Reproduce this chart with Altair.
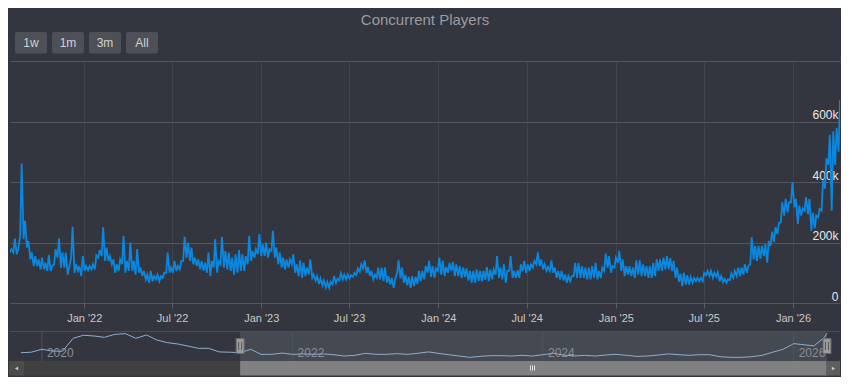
import altair as alt
import pandas as pd

# ---------------- data (values in thousands of players) ----------------
# weekly samples from 2021-08-01; each week has a low (weekday) and a high (weekend/peak)
week_lo = [167, 167, 161, 222, 211, 183, 144, 122, 122, 111,
           111, 106, 106, 128, 150, 117, 117, 94, 150, 100,
           106, 89, 106, 108, 111, 111, 150, 155, 139, 139,
           128, 100, 106, 128, 100, 106, 106, 94, 100, 89,
           78, 67,
           72, 78, 72, 83, 100, 100, 100, 106, 111, 139,
           150, 139, 128, 122, 111, 106, 100, 89, 117, 100,
           128, 117, 111, 106, 94, 100, 106, 106, 128, 139,
           150, 161, 155, 155, 150, 172, 150, 128, 117, 111,
           117, 128, 100, 89, 83, 89, 94, 83, 74, 63,
           58, 52, 50, 61, 66, 75, 78, 78, 81, 86,
           92, 103, 114, 100, 89, 78, 83, 78, 72, 67,
           61, 50, 100, 81, 67, 58, 50, 56, 63, 72,
           78, 100,
           86, 83, 106, 94, 89, 100, 106, 89, 89, 83,
           86, 74, 67, 67, 72, 72, 77, 72, 78, 94,
           83, 78, 67, 106, 83, 83, 83, 106, 100, 106,
           117, 128, 122, 111, 106, 106, 100, 83, 78, 74,
           67,
           72, 89, 83, 83, 83, 78, 78, 83, 78, 83,
           106, 117, 100, 117, 133, 106, 89, 94, 89, 83,
           94, 89, 89, 83, 83, 89, 106, 106, 111, 111,
           106, 83, 70, 56, 61, 61, 67, 72, 72, 72,
           92,
           89, 83, 87, 72, 69, 67, 76, 83, 89, 89,
           94, 100, 128, 144, 139, 147, 155, 133, 189, 202,
           228, 267, 289, 300, 333, 317, 261, 289, 305, 294,
           239, 247, 283, 305, 378, 456, 305, 456, 500]

week_hi = [178, 213, 178, 461, 272, 205, 167, 155, 144, 150,
           133, 158, 122, 178, 213, 167, 167, 117, 252, 128,
           122, 155, 122, 122, 128, 158, 175, 250, 183, 155,
           144, 128, 144, 222, 139, 200, 139, 178, 117, 106,
           94, 106,
           89, 94, 89, 100, 167, 117, 139, 122, 139, 219,
           200, 183, 150, 144, 139, 133, 167, 139, 211, 139,
           219, 172, 167, 150, 161, 175, 161, 155, 222, 172,
           178, 228, 194, 200, 178, 239, 183, 167, 150, 144,
           144, 161, 128, 141, 133, 117, 144, 94, 89, 81,
           75, 70, 70, 89, 80, 98, 94, 94, 92, 100,
           114, 128, 141, 119, 106, 94, 117, 117, 117, 89,
           83, 78, 141, 117, 94, 86, 89, 86, 106, 106,
           122, 139,
           122, 114, 150, 139, 119, 133, 136, 128, 122, 117,
           114, 106, 106, 111, 106, 106, 119, 110, 111, 155,
           117, 128, 106, 155, 106, 108, 128, 139, 128, 128,
           139, 167, 144, 128, 119, 141, 117, 106, 106, 94,
           89,
           89, 133, 133, 122, 117, 117, 122, 133, 106, 117,
           163, 155, 122, 150, 172, 144, 122, 122, 117, 141,
           141, 128, 122, 122, 133, 144, 144, 150, 155, 148,
           139, 117, 97, 100, 92, 86, 83, 83, 83, 100,
           106,
           106, 100, 102, 89, 80, 78, 98, 106, 117, 117,
           128, 122, 217, 189, 189, 189, 194, 205, 236, 250,
           264, 333, 344, 333, 400, 344, 322, 313, 350, 344,
           298, 289, 311, 405, 478, 556, 567, 578, 672]

# navigator: monthly values from 2019-11 plus the last day
nav_vals = [161, 170, 221, 190, 186, 413, 466, 454, 430, 483,
            494, 413, 471, 384, 337, 313, 278, 238, 238, 175,
            170, 161, 220, 133, 133, 155, 133, 140, 133, 140,
            126, 103, 115, 150, 133, 133, 145, 133, 150, 175,
            150, 126, 103, 80, 97, 109, 109, 103, 115, 103,
            126, 150, 120, 103, 115, 103, 120, 133, 115, 97,
            103, 120, 140, 126, 115, 126, 126, 91, 80, 80,
            91, 115, 170, 221, 320, 300, 280, 430]
nav_last_date = "2026-04-08"
nav_last_val = 501

tick_dates = ["2022-01-01", "2022-07-01", "2023-01-01", "2023-07-01", "2024-01-01",
              "2024-07-01", "2025-01-01", "2025-07-01", "2026-01-01"]
nav_years = ["2020", "2022", "2024", "2026"]
y_ticks = [0, 200, 400, 600, 800]
buttons = ["1w", "1m", "3m", "All"]
title_text = "Concurrent Players"
view_start, view_end = "2021-08-01", "2026-04-08"

# ---------------- tables ----------------
weeks = pd.date_range("2021-08-01", periods=len(week_hi), freq="7D")
rows = []
for d, lo, hi in zip(weeks, week_lo, week_hi):
    rows.append({"date": d.strftime("%Y-%m-%d"), "v": lo})
    rows.append({"date": (d + pd.Timedelta(days=3)).strftime("%Y-%m-%d"), "v": hi})
main_df = pd.DataFrame(rows)

nav_dates = [d.strftime("%Y-%m-%d") for d in pd.date_range("2019-11-01", periods=len(nav_vals), freq="MS")]
nav_df = pd.DataFrame({"date": nav_dates + [nav_last_date], "v": nav_vals + [nav_last_val]})
nav_grid_df = pd.DataFrame({"date": [y + "-01-01" for y in nav_years], "label": nav_years})
sel_df = pd.DataFrame({"s": [view_start], "e": [view_end]})
handle_df = pd.DataFrame({"date": [view_start, view_end]})

# ---------------- style ----------------
BG = "#33363e"
FONT = "Liberation Sans"
W, H = 830, 242


def dt(s):
    y, m, d = (int(p) for p in s.split("-"))
    return alt.DateTime(year=y, month=m, date=d, utc=True)


main_x_scale = alt.Scale(type="utc", domain=[dt(view_start), dt(view_end)])
main_y_scale = alt.Scale(domain=[0, 800], nice=False)
nav_x_scale = alt.Scale(type="utc", domain=[dt("2019-09-30"), dt("2026-05-16")])
nav_y_scale = alt.Scale(domain=[16, 541], range=[300, 270], nice=False, zero=False)

x_axis = alt.Axis(values=[dt(t) for t in tick_dates], format="%b '%y", title=None,
                  grid=True, gridColor="#3f434b", gridWidth=1, domain=False,
                  tickColor="#5a5e66", tickSize=5, labelPadding=4,
                  labelColor="#c8c8c8", labelFont=FONT, labelFontSize=11,
                  labelOverlap=False, labelFlush=False)
y_axis = alt.Axis(orient="right", values=y_ticks, title=None,
                  labelExpr="datum.value >= 800 ? '' : (datum.value == 0 ? '0' : datum.value + 'k')",
                  grid=True, gridColor="#52565e", gridWidth=1, domain=False,
                  ticks=False, tickSize=0, labelPadding=-2, labelAlign="right",
                  labelBaseline="alphabetic", labelOffset=-3,
                  labelColor="#e8e8e8", labelFont=FONT, labelFontSize=12,
                  labelOverlap=False, labelFlush=False)

main_line = alt.Chart(main_df).mark_line(color="#0a88e0", strokeWidth=1.8, clip=True).encode(
    x=alt.X("date:T", scale=main_x_scale, axis=x_axis),
    y=alt.Y("v:Q", scale=main_y_scale, axis=y_axis),
)
main_layer = alt.layer(main_line)

one = alt.Data(values=[{"a": 1}])

# navigator
nav_top = alt.Chart(one).mark_rule(color="#4b4f57", strokeWidth=1).encode(
    x=alt.value(0), x2=alt.value(W), y=alt.value(270.5))
nav_sel = alt.Chart(sel_df).mark_rect(fill="#454951").encode(
    x=alt.X("s:T", scale=nav_x_scale, axis=None), x2="e:T",
    y=alt.value(271), y2=alt.value(300))
nav_grid = alt.Chart(nav_grid_df).mark_rule(color="#50545c", strokeWidth=1).encode(
    x=alt.X("date:T", scale=nav_x_scale, axis=None), y=alt.value(271), y2=alt.value(300))
nav_lab = alt.Chart(nav_grid_df).mark_text(align="left", baseline="alphabetic", dx=5,
                                           font=FONT, fontSize=12, color="#8a8d93").encode(
    x=alt.X("date:T", scale=nav_x_scale, axis=None), y=alt.value(296), text="label:N")
nav_line = alt.Chart(nav_df).mark_line(color="#8eaed0", strokeWidth=1).encode(
    x=alt.X("date:T", scale=nav_x_scale, axis=None),
    y=alt.Y("v:Q", scale=nav_y_scale, axis=None))
# scrollbar
sb_track = alt.Chart(one).mark_rect(fill="#404040").encode(
    x=alt.value(-1), x2=alt.value(W), y=alt.value(300), y2=alt.value(314.5))
sb_thumb = alt.Chart(sel_df).mark_rect(fill="#808080").encode(
    x=alt.X("s:T", scale=nav_x_scale, axis=None), x2="e:T",
    y=alt.value(300), y2=alt.value(314.5))
sb_left = alt.Chart(one).mark_rect(fill="#4c4c4c").encode(
    x=alt.value(-1), x2=alt.value(14), y=alt.value(300), y2=alt.value(314.5))
sb_right = alt.Chart(one).mark_rect(fill="#5e5e5e").encode(
    x=alt.value(816), x2=alt.value(W), y=alt.value(300), y2=alt.value(314.5))
arr_l = alt.Chart(one).mark_point(shape="triangle-left", filled=True, size=14, color="#cccccc", opacity=1).encode(
    x=alt.value(6.5), y=alt.value(307.5))
arr_r = alt.Chart(one).mark_point(shape="triangle-right", filled=True, size=14, color="#cccccc", opacity=1).encode(
    x=alt.value(823.5), y=alt.value(307.5))
grip = [alt.Chart(one).mark_rule(color="#e0e0e0", strokeWidth=1).encode(
    x=alt.value(gx), y=alt.value(304.5), y2=alt.value(309.5)) for gx in (520.5, 522.5, 524.5)]
# handles
handles = alt.Chart(handle_df).mark_rect(fill="#9a9a9a", stroke="#6a6a6a", strokeWidth=1,
                                         xOffset=-4, x2Offset=4).encode(
    x=alt.X("date:T", scale=nav_x_scale, axis=None), x2="date:T",
    y=alt.value(277.5), y2=alt.value(292.5))
handle_lines = [alt.Chart(handle_df).mark_rule(color="#5a5a5a", strokeWidth=1, xOffset=off).encode(
    x=alt.X("date:T", scale=nav_x_scale, axis=None), y=alt.value(281), y2=alt.value(289))
    for off in (-1.5, 1.5)]

# title and range buttons
title = alt.Chart(one).mark_text(font=FONT, fontSize=15, color="#9a9ca0", align="center",
                                 baseline="alphabetic").encode(
    x=alt.value(W / 2), y=alt.value(-36.5), text=alt.value(title_text))
btn_layers = []
for k, lab in enumerate(buttons):
    x0 = 5 + 37 * k
    btn_layers.append(alt.Chart(one).mark_rect(fill="#4d5056", cornerRadius=2).encode(
        x=alt.value(x0), x2=alt.value(x0 + 32), y=alt.value(-29), y2=alt.value(-7.5)))
    btn_layers.append(alt.Chart(one).mark_text(font=FONT, fontSize=12, color="#d2d2d2",
                                               align="center", baseline="middle").encode(
        x=alt.value(x0 + 16), y=alt.value(-18), text=alt.value(lab)))

nav_layer = alt.layer(nav_top, nav_sel, nav_grid, nav_lab, nav_line,
                      sb_track, sb_thumb, sb_left, sb_right, arr_l, arr_r, *grip,
                      handles, *handle_lines, title, *btn_layers)

chart = alt.layer(main_layer, nav_layer).resolve_scale(
    x="independent", y="independent"
).properties(
    width=W, height=H,
    padding={"left": 2, "top": 53, "right": 1, "bottom": 74},
    autosize=alt.AutoSizeParams(type="none"),
    background=BG,
).configure_view(stroke=None)

chart.save("out.html", embed_options={"renderer": "svg", "actions": False})
